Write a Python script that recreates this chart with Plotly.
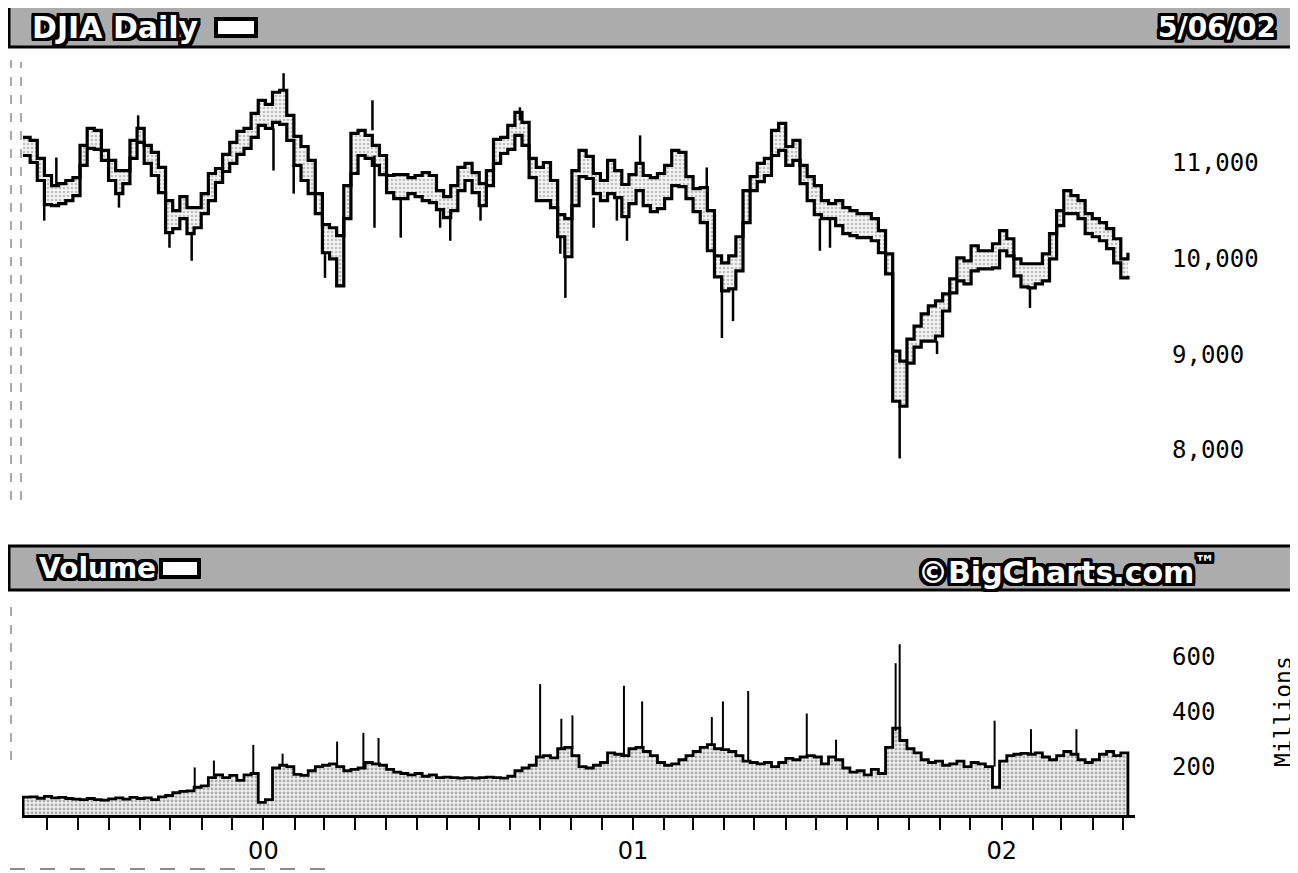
import pandas as pd
import plotly.graph_objects as go

# ---------------- data ----------------
start_date = "1999-05-08"
end_date = "2002-05-06"

# weekly envelope of the daily price bars (DJIA points)
high = [11262, 11230, 11042, 10864, 10759, 10780, 10812, 10843, 11178, 11356,
        11335, 11126, 11021, 10916, 10916, 11230, 11356, 11178, 11105, 10948,
        10602, 10497, 10644, 10529, 10529, 10675, 10885, 10937, 11084, 11209,
        11324, 11356, 11513, 11649, 11607, 11733, 11754, 11492, 11272, 11167,
        11021, 10675, 10351, 10319, 10236, 10759, 11304, 11335, 11283, 11178,
        11073, 10864, 10874, 10874, 10843, 10864, 10895, 10864, 10707, 10644,
        10759, 10948, 10990, 10895, 10780, 10916, 11241, 11262, 11387, 11523,
        11419, 11042, 10948, 11000, 10812, 10456, 10414, 10916, 11126, 11063,
        10885, 10812, 11021, 10916, 10770, 10874, 10990, 10864, 10843, 10885,
        10969, 11126, 11105, 10853, 10728, 10738, 10497, 10026, 9953, 10026,
        10225, 10707, 10853, 10990, 11042, 11335, 11408, 11167, 11230, 10969,
        10853, 10759, 10602, 10571, 10602, 10529, 10497, 10466, 10466, 10414,
        10288, 10047, 9032, 8927, 9157, 9293, 9419, 9503, 9555, 9628,
        9786, 10005, 9974, 10131, 10079, 10079, 10152, 10288, 10204, 9995,
        9943, 9943, 9943, 10047, 10257, 10497, 10707, 10654, 10602, 10466,
        10414, 10372, 10309, 10204, 9995, 10058]

low = [11073, 11000, 10812, 10560, 10550, 10571, 10602, 10654, 10969, 11147,
       11136, 11021, 10812, 10675, 10780, 11042, 11209, 10990, 10864, 10686,
       10267, 10309, 10414, 10257, 10319, 10466, 10602, 10791, 10906, 10990,
       11084, 11147, 11262, 11387, 11356, 11419, 11398, 11230, 10969, 10812,
       10675, 10466, 10058, 9995, 9712, 10414, 10885, 11073, 11042, 10969,
       10874, 10686, 10623, 10623, 10675, 10644, 10602, 10581, 10508, 10424,
       10497, 10707, 10812, 10686, 10550, 10759, 10990, 11094, 11136, 11283,
       11178, 10843, 10602, 10602, 10529, 10225, 10016, 10550, 10853, 10833,
       10675, 10602, 10675, 10634, 10435, 10571, 10707, 10550, 10487, 10518,
       10623, 10759, 10749, 10623, 10487, 10372, 10079, 9807, 9660, 9681,
       9869, 10372, 10707, 10801, 10864, 11073, 11126, 10969, 11021, 10780,
       10602, 10456, 10414, 10414, 10340, 10257, 10236, 10215, 10215, 10183,
       10058, 9838, 8508, 8456, 8906, 9073, 9136, 9136, 9189, 9450,
       9639, 9765, 9733, 9869, 9890, 9890, 9901, 10079, 10026, 9817,
       9702, 9691, 9733, 9765, 9995, 10340, 10466, 10466, 10414, 10257,
       10225, 10183, 10100, 9953, 9796, 9817]

# single-day price spikes: date, bar end at the envelope, spike extreme
spike_dates = ["1999-05-29", "1999-06-10", "1999-08-11", "1999-08-30", "1999-09-30",
               "1999-10-22", "2000-01-11", "2000-01-21", "2000-01-31", "2000-03-02",
               "2000-04-18", "2000-04-20", "2000-05-16", "2000-06-24", "2000-07-04",
               "2000-08-03", "2000-09-11", "2000-10-21", "2000-10-26", "2000-11-23",
               "2000-12-16", "2000-12-26", "2001-01-08", "2001-03-15", "2001-03-30",
               "2001-04-10", "2001-07-05", "2001-07-15", "2001-09-22", "2001-10-29",
               "2002-01-29"]
spike_from = [10560, 10759, 10675, 11356, 10267, 10257, 11356, 11754, 10969, 10058,
              11335, 11073, 10623, 10508, 10424, 10550, 11440, 10225, 10016, 10634,
              10634, 10435, 10990, 10738, 9807, 9681, 10414, 10414, 8456, 9136,
              9702]
spike_to = [10393, 11052, 10529, 11492, 10110, 9974, 10916, 11932, 10675, 9796,
            11649, 10319, 10215, 10319, 10183, 10393, 11576, 10047, 9587, 10319,
            10393, 10183, 11283, 10948, 9168, 9345, 10079, 10110, 7911, 9000,
            9482]

# weekly volume level (millions)
volume = [89, 90, 85, 92, 86, 88, 84, 82, 80, 84,
          80, 78, 83, 86, 82, 88, 84, 86, 80, 90,
          95, 105, 110, 112, 125, 130, 160, 170, 160, 168,
          150, 170, 175, 70, 80, 195, 205, 200, 172, 168,
          185, 200, 205, 210, 200, 185, 190, 195, 215, 210,
          205, 190, 180, 175, 170, 175, 165, 170, 160, 162,
          160, 158, 160, 158, 160, 162, 160, 158, 165, 185,
          195, 205, 235, 240, 232, 265, 270, 240, 200, 195,
          205, 215, 250, 245, 240, 265, 270, 255, 240, 215,
          205, 210, 225, 240, 255, 270, 280, 265, 262, 255,
          240, 220, 215, 210, 215, 200, 215, 230, 225, 235,
          240, 235, 210, 235, 225, 195, 180, 185, 170, 190,
          175, 270, 340, 295, 265, 250, 225, 215, 220, 205,
          210, 220, 200, 215, 210, 200, 125, 220, 240, 245,
          248, 245, 250, 235, 225, 240, 255, 245, 225, 215,
          225, 245, 255, 240, 250, 215]

# single-day volume spikes
vspike_dates = ["1999-10-25", "1999-11-13", "1999-12-22", "2000-01-20", "2000-03-14",
                "2000-04-09", "2000-04-24", "2000-10-01", "2000-10-22", "2000-11-02",
                "2000-12-23", "2001-01-10", "2001-03-20", "2001-03-31", "2001-04-25",
                "2001-06-22", "2001-07-21", "2001-09-18", "2001-09-22", "2001-12-25",
                "2002-01-30", "2002-03-16"]
vspike_from = [125, 165, 175, 205, 200, 195, 210, 235, 265, 265,
               240, 265, 280, 265, 220, 235, 235, 330, 340, 200,
               245, 245]
vspike_to = [197, 222, 279, 247, 291, 323, 304, 500, 374, 386,
             494, 437, 380, 437, 475, 393, 298, 576, 645, 367,
             336, 336]

price_ticks = [8000, 9000, 10000, 11000]
price_tick_text = ["8,000", "9,000", "10,000", "11,000"]
vol_ticks = [200, 400, 600]
vol_tick_text = ["200", "400", "600"]
first_month = "1999-06-01"
last_month = "2002-05-01"
year_labels = {2000: "00", 2001: "01", 2002: "02"}

title_text = "DJIA Daily"
date_text = "5/06/02"
volume_text = "Volume"
brand_text = "©BigCharts.com<sup>™</sup>"
units_text = "Millions"

# ---------------- figure ----------------
# the page body has an 8px margin, so the figure is 8px smaller and all
# screen positions below are given in window pixels and shifted back by 8
OFF = 8
W, H = 1298 - OFF, 873 - OFF


def fx(x):
    return (x - OFF) / W


def fy(y):
    return 1 - (y - OFF) / H


dates = pd.date_range(start_date, end_date, periods=len(high))
x_range = ["1999-05-07", "2002-05-13"]

fig = go.Figure()

# price envelope
fig.add_trace(go.Scatter(x=dates, y=low, mode="lines",
                         line=dict(color="black", width=3.2, shape="hv"),
                         xaxis="x", yaxis="y", hoverinfo="skip"))
fig.add_trace(go.Scatter(x=dates, y=high, mode="lines",
                         line=dict(color="black", width=3.2, shape="hv"),
                         fill="tonexty", fillcolor="#e4e4e4",
                         fillpattern=dict(shape=".", fgcolor="#8a8a8a",
                                          bgcolor="#f4f4f4", size=4, solidity=0.35),
                         xaxis="x", yaxis="y", hoverinfo="skip"))

sx, sy = [], []
for d, a, b in zip(spike_dates, spike_from, spike_to):
    sx += [d, d, None]
    sy += [a, b, None]
fig.add_trace(go.Scatter(x=sx, y=sy, mode="lines",
                         line=dict(color="black", width=2.5),
                         xaxis="x", yaxis="y", hoverinfo="skip"))

# volume area
vx = [dates[0]] + list(dates) + [dates[-1]]
vy = [0] + volume + [0]
fig.add_trace(go.Scatter(x=vx, y=vy, mode="lines",
                         line=dict(color="black", width=2.8, shape="hv"),
                         fill="toself", fillcolor="#e0e0e0",
                         fillpattern=dict(shape=".", fgcolor="#6a6a6a",
                                          bgcolor="#f0f0f0", size=4, solidity=0.42),
                         xaxis="x2", yaxis="y2", hoverinfo="skip"))

vsx, vsy = [], []
for d, a, b in zip(vspike_dates, vspike_from, vspike_to):
    vsx += [d, d, None]
    vsy += [a, b, None]
fig.add_trace(go.Scatter(x=vsx, y=vsy, mode="lines",
                         line=dict(color="black", width=2),
                         xaxis="x2", yaxis="y2", hoverinfo="skip"))

months = pd.date_range(first_month, last_month, freq="MS")
month_text = [year_labels.get(m.year, "") if m.month == 1 else "" for m in months]

mono = "DejaVu Sans Mono, Liberation Mono, monospace"
fig.update_layout(
    width=W, height=H,
    margin=dict(l=0, r=0, t=0, b=0),
    paper_bgcolor="white", plot_bgcolor="white",
    showlegend=False,
    xaxis=dict(domain=[fx(22), fx(1135)], range=x_range, visible=False,
               anchor="y", fixedrange=True),
    yaxis=dict(domain=[fy(510), fy(50)], range=[7373, 12174],
               anchor="free", position=fx(1171), side="right",
               showgrid=False, zeroline=False, showline=False, ticks="",
               tickvals=price_ticks, ticktext=price_tick_text,
               tickfont=dict(family=mono, size=24, color="black")),
    xaxis2=dict(domain=[fx(22), fx(1135)], range=x_range, anchor="y2",
                showgrid=False, zeroline=False,
                showline=True, linecolor="black", linewidth=3,
                ticks="outside", ticklen=12, tickwidth=2, tickcolor="black",
                tickvals=list(months), ticktext=month_text,
                tickfont=dict(family="Liberation Sans Narrow, DejaVu Sans, sans-serif",
                              size=24, color="black")),
    yaxis2=dict(domain=[fy(815), fy(595)], range=[24, 824],
                anchor="free", position=fx(1171), side="right",
                showgrid=False, zeroline=False, showline=False, ticks="",
                tickvals=vol_ticks, ticktext=vol_tick_text,
                tickfont=dict(family=mono, size=24, color="black")),
)

outline = ", ".join(f"{dx}px {dy}px 0 #000"
                    for dx in (-3, -2, -1, 0, 1, 2, 3)
                    for dy in (-3, -2, -1, 0, 1, 2, 3) if (dx, dy) != (0, 0))

shapes = []
# banners
for y0, y1 in ((5, 47), (546, 590)):
    shapes.append(dict(type="rect", xref="paper", yref="paper",
                       x0=fx(9), x1=fx(1302), y0=fy(y1), y1=fy(y0),
                       fillcolor="#acacac", line=dict(color="black", width=3),
                       layer="below"))
# small legend buttons
for x0, x1, y0, y1 in ((216, 256, 19, 36), (161, 199, 560, 577)):
    shapes.append(dict(type="rect", xref="paper", yref="paper",
                       x0=fx(x0), x1=fx(x1), y0=fy(y1), y1=fy(y0),
                       fillcolor="white", line=dict(color="black", width=4)))
# faint left frame lines and the scanned edge at the bottom
for xx, ya, yb in ((11, 60, 500), (21, 62, 500), (11, 600, 760)):
    shapes.append(dict(type="line", xref="paper", yref="paper",
                       x0=fx(xx), x1=fx(xx), y0=fy(yb), y1=fy(ya),
                       line=dict(color="#555555", width=1, dash="dash")))
shapes.append(dict(type="line", xref="paper", yref="paper",
                   x0=fx(10), x1=fx(330), y0=fy(869), y1=fy(869),
                   line=dict(color="#666666", width=1.5, dash="longdash")))
fig.update_layout(shapes=shapes)

bold = "DejaVu Sans, Verdana, sans-serif"
ann = [
    dict(text=title_text, x=fx(30), y=fy(27), xanchor="left", yanchor="middle",
         font=dict(family=bold, size=30, color="white", weight="bold", shadow=outline)),
    dict(text=date_text, x=fx(1278), y=fy(28), xanchor="right", yanchor="middle",
         font=dict(family=bold, size=28, color="white", weight="bold", shadow=outline)),
    dict(text=volume_text, x=fx(37), y=fy(568), xanchor="left", yanchor="middle",
         font=dict(family=bold, size=28, color="white", weight="bold", shadow=outline)),
    dict(text=brand_text, x=fx(916), y=fy(570), xanchor="left", yanchor="middle",
         font=dict(family=bold, size=30, color="white", weight="bold", shadow=outline)),
    dict(text=units_text, x=fx(1283), y=fy(712), xanchor="center", yanchor="middle",
         textangle=-90, font=dict(family=mono, size=23, color="black")),
]
for a in ann:
    a.update(xref="paper", yref="paper", showarrow=False)
fig.update_layout(annotations=ann)

fig.write_html("out.html")
